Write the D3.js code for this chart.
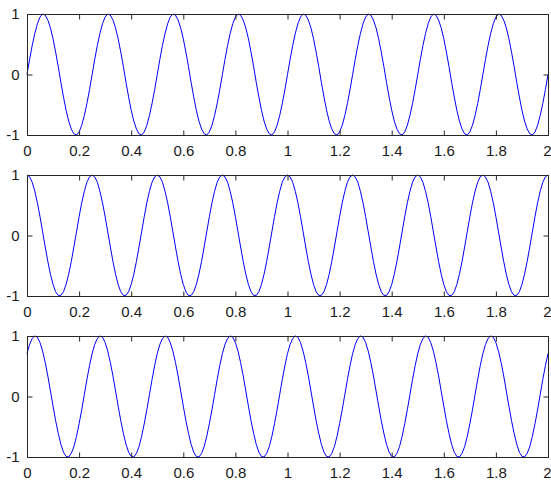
<!DOCTYPE html>
<html>
<head>
<meta charset="utf-8">
<script src="https://cdn.jsdelivr.net/npm/d3@7"></script>
<style>
  body { margin: 0; background: #fff; }
  svg { display: block; }
</style>
</head>
<body>
<svg id="chart"></svg>
<script>
// time samples: 0 to 2, step 0.01
var sampleStep = 0.01
var xTicks = [0, 0.2, 0.4, 0.6, 0.8, 1, 1.2, 1.4, 1.6, 1.8, 2]
var xTickLabels = ['0', '0.2', '0.4', '0.6', '0.8', '1', '1.2', '1.4', '1.6', '1.8', '2']
var yTicks = [-1, 0, 1]
var yTickLabels = ['-1', '0', '1']

// values (one period per line)
var seriesTop = [
  0, 0.25, 0.48, 0.68, 0.84, 0.95, 1.00, 0.98, 0.90, 0.77, 0.59, 0.37, 0.13, -0.13, -0.37, -0.59, -0.77, -0.90, -0.98, -1.00, -0.95, -0.84, -0.68, -0.48, -0.25,
  0, 0.25, 0.48, 0.68, 0.84, 0.95, 1.00, 0.98, 0.90, 0.77, 0.59, 0.37, 0.13, -0.13, -0.37, -0.59, -0.77, -0.90, -0.98, -1.00, -0.95, -0.84, -0.68, -0.48, -0.25,
  0, 0.25, 0.48, 0.68, 0.84, 0.95, 1.00, 0.98, 0.90, 0.77, 0.59, 0.37, 0.13, -0.13, -0.37, -0.59, -0.77, -0.90, -0.98, -1.00, -0.95, -0.84, -0.68, -0.48, -0.25,
  0, 0.25, 0.48, 0.68, 0.84, 0.95, 1.00, 0.98, 0.90, 0.77, 0.59, 0.37, 0.13, -0.13, -0.37, -0.59, -0.77, -0.90, -0.98, -1.00, -0.95, -0.84, -0.68, -0.48, -0.25,
  0, 0.25, 0.48, 0.68, 0.84, 0.95, 1.00, 0.98, 0.90, 0.77, 0.59, 0.37, 0.13, -0.13, -0.37, -0.59, -0.77, -0.90, -0.98, -1.00, -0.95, -0.84, -0.68, -0.48, -0.25,
  0, 0.25, 0.48, 0.68, 0.84, 0.95, 1.00, 0.98, 0.90, 0.77, 0.59, 0.37, 0.13, -0.13, -0.37, -0.59, -0.77, -0.90, -0.98, -1.00, -0.95, -0.84, -0.68, -0.48, -0.25,
  0, 0.25, 0.48, 0.68, 0.84, 0.95, 1.00, 0.98, 0.90, 0.77, 0.59, 0.37, 0.13, -0.13, -0.37, -0.59, -0.77, -0.90, -0.98, -1.00, -0.95, -0.84, -0.68, -0.48, -0.25,
  0, 0.25, 0.48, 0.68, 0.84, 0.95, 1.00, 0.98, 0.90, 0.77, 0.59, 0.37, 0.13, -0.13, -0.37, -0.59, -0.77, -0.90, -0.98, -1.00, -0.95, -0.84, -0.68, -0.48, -0.25,
  0
]

var seriesMiddle = [
  1, 0.97, 0.88, 0.73, 0.54, 0.31, 0.06, -0.19, -0.43, -0.64, -0.81, -0.93, -0.99, -0.99, -0.93, -0.81, -0.64, -0.43, -0.19, 0.06, 0.31, 0.54, 0.73, 0.88, 0.97,
  1, 0.97, 0.88, 0.73, 0.54, 0.31, 0.06, -0.19, -0.43, -0.64, -0.81, -0.93, -0.99, -0.99, -0.93, -0.81, -0.64, -0.43, -0.19, 0.06, 0.31, 0.54, 0.73, 0.88, 0.97,
  1, 0.97, 0.88, 0.73, 0.54, 0.31, 0.06, -0.19, -0.43, -0.64, -0.81, -0.93, -0.99, -0.99, -0.93, -0.81, -0.64, -0.43, -0.19, 0.06, 0.31, 0.54, 0.73, 0.88, 0.97,
  1, 0.97, 0.88, 0.73, 0.54, 0.31, 0.06, -0.19, -0.43, -0.64, -0.81, -0.93, -0.99, -0.99, -0.93, -0.81, -0.64, -0.43, -0.19, 0.06, 0.31, 0.54, 0.73, 0.88, 0.97,
  1, 0.97, 0.88, 0.73, 0.54, 0.31, 0.06, -0.19, -0.43, -0.64, -0.81, -0.93, -0.99, -0.99, -0.93, -0.81, -0.64, -0.43, -0.19, 0.06, 0.31, 0.54, 0.73, 0.88, 0.97,
  1, 0.97, 0.88, 0.73, 0.54, 0.31, 0.06, -0.19, -0.43, -0.64, -0.81, -0.93, -0.99, -0.99, -0.93, -0.81, -0.64, -0.43, -0.19, 0.06, 0.31, 0.54, 0.73, 0.88, 0.97,
  1, 0.97, 0.88, 0.73, 0.54, 0.31, 0.06, -0.19, -0.43, -0.64, -0.81, -0.93, -0.99, -0.99, -0.93, -0.81, -0.64, -0.43, -0.19, 0.06, 0.31, 0.54, 0.73, 0.88, 0.97,
  1, 0.97, 0.88, 0.73, 0.54, 0.31, 0.06, -0.19, -0.43, -0.64, -0.81, -0.93, -0.99, -0.99, -0.93, -0.81, -0.64, -0.43, -0.19, 0.06, 0.31, 0.54, 0.73, 0.88, 0.97,
  1
]

var seriesBottom = [
  0.71, 0.86, 0.96, 1.00, 0.98, 0.89, 0.75, 0.56, 0.34, 0.09, -0.16, -0.40, -0.61, -0.79, -0.92, -0.99, -1.00, -0.94, -0.83, -0.66, -0.45, -0.22, 0.03, 0.28, 0.51,
  0.71, 0.86, 0.96, 1.00, 0.98, 0.89, 0.75, 0.56, 0.34, 0.09, -0.16, -0.40, -0.61, -0.79, -0.92, -0.99, -1.00, -0.94, -0.83, -0.66, -0.45, -0.22, 0.03, 0.28, 0.51,
  0.71, 0.86, 0.96, 1.00, 0.98, 0.89, 0.75, 0.56, 0.34, 0.09, -0.16, -0.40, -0.61, -0.79, -0.92, -0.99, -1.00, -0.94, -0.83, -0.66, -0.45, -0.22, 0.03, 0.28, 0.51,
  0.71, 0.86, 0.96, 1.00, 0.98, 0.89, 0.75, 0.56, 0.34, 0.09, -0.16, -0.40, -0.61, -0.79, -0.92, -0.99, -1.00, -0.94, -0.83, -0.66, -0.45, -0.22, 0.03, 0.28, 0.51,
  0.71, 0.86, 0.96, 1.00, 0.98, 0.89, 0.75, 0.56, 0.34, 0.09, -0.16, -0.40, -0.61, -0.79, -0.92, -0.99, -1.00, -0.94, -0.83, -0.66, -0.45, -0.22, 0.03, 0.28, 0.51,
  0.71, 0.86, 0.96, 1.00, 0.98, 0.89, 0.75, 0.56, 0.34, 0.09, -0.16, -0.40, -0.61, -0.79, -0.92, -0.99, -1.00, -0.94, -0.83, -0.66, -0.45, -0.22, 0.03, 0.28, 0.51,
  0.71, 0.86, 0.96, 1.00, 0.98, 0.89, 0.75, 0.56, 0.34, 0.09, -0.16, -0.40, -0.61, -0.79, -0.92, -0.99, -1.00, -0.94, -0.83, -0.66, -0.45, -0.22, 0.03, 0.28, 0.51,
  0.71, 0.86, 0.96, 1.00, 0.98, 0.89, 0.75, 0.56, 0.34, 0.09, -0.16, -0.40, -0.61, -0.79, -0.92, -0.99, -1.00, -0.94, -0.83, -0.66, -0.45, -0.22, 0.03, 0.28, 0.51,
  0.71
]

var allSeries = [seriesTop, seriesMiddle, seriesBottom]

var width = 551
var height = 481
var left = 27, right = 548
var panelTops = [14, 175, 336]
var panelHeight = 121
var tickLen = 5

var svg = d3.select('#chart')
svg.attr('width', width).attr('height', height)

var x = d3.scaleLinear().domain([0, 2]).range([left, right])

allSeries.forEach(function(values, i) {
  var top = panelTops[i]
  var bottom = top + panelHeight
  var y = d3.scaleLinear().domain([-1, 1]).range([bottom, top])
  var g = svg.append('g')

  // the curve
  var line = d3.line()
    .x(function(d, k) { return x(k * sampleStep) })
    .y(function(d) { return y(d) })
  g.append('path')
    .datum(values)
    .attr('d', line)
    .attr('fill', 'none')
    .attr('stroke', '#0000ff')
    .attr('stroke-width', 1)

  // box
  g.append('rect')
    .attr('x', left + 0.5).attr('y', top + 0.5)
    .attr('width', right - left).attr('height', bottom - top)
    .attr('fill', 'none')
    .attr('stroke', '#262626')
    .attr('stroke-width', 1)

  // axes with inward ticks, labels only on bottom and left
  var xAxisBottom = d3.axisBottom(x).tickValues(xTicks)
    .tickSizeInner(-tickLen).tickSizeOuter(0).tickPadding(10)
    .tickFormat(function(d, k) { return xTickLabels[k] })
  var xAxisTop = d3.axisTop(x).tickValues(xTicks)
    .tickSizeInner(-tickLen).tickSizeOuter(0).tickFormat('')
  var yAxisLeft = d3.axisLeft(y).tickValues(yTicks)
    .tickSizeInner(-tickLen).tickSizeOuter(0).tickPadding(8)
    .tickFormat(function(d, k) { return yTickLabels[k] })
  var yAxisRight = d3.axisRight(y).tickValues(yTicks)
    .tickSizeInner(-tickLen).tickSizeOuter(0).tickFormat('')

  var axes = [
    g.append('g').attr('transform', 'translate(0,' + (bottom + 0.5) + ')').call(xAxisBottom),
    g.append('g').attr('transform', 'translate(0,' + (top + 0.5) + ')').call(xAxisTop),
    g.append('g').attr('transform', 'translate(' + (left + 0.5) + ',0)').call(yAxisLeft),
    g.append('g').attr('transform', 'translate(' + (right + 0.5) + ',0)').call(yAxisRight)
  ]
  axes.forEach(function(a) {
    a.select('.domain').remove()
    a.selectAll('line').attr('stroke', '#262626')
    a.selectAll('text')
      .attr('fill', '#1a1a1a')
      .style('font-family', 'Liberation Sans, Arial, sans-serif')
      .style('font-size', '15px')
  })
  // keep the last x label inside the page
  axes[0].selectAll('text').filter(function(d) { return d === 2 })
    .attr('text-anchor', 'end').attr('dx', 3)
})
</script>
</body>
</html>
